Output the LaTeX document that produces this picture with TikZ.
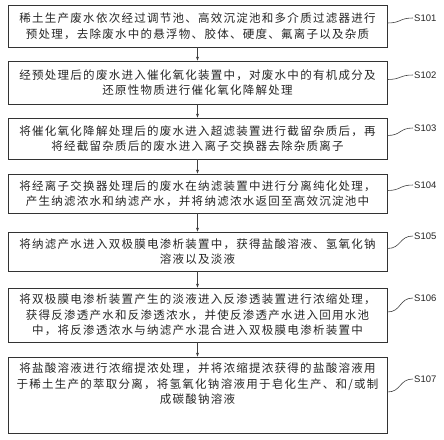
\documentclass[tikz,border=0pt]{standalone}
\usepackage{fontspec}
\usepackage{tikz}
\usetikzlibrary{arrows.meta}
\newfontfamily\cjk{Noto Sans CJK SC}[LetterSpace=11]
\newfontfamily\lblfont{Liberation Sans}
\tikzset{
    stepbox/.style={draw=black!80, line width=0.8pt, minimum width=379, inner sep=0pt},
    steptext/.style={align=center, inner sep=0pt, text=black!85,
        font=\cjk\fontsize{11.5}{15.5}\selectfont},
    steplabel/.style={anchor=west, inner sep=1pt, text=black!85,
        font=\lblfont\fontsize{9.5}{11}\selectfont},
    flow/.style={draw=black!75, line width=0.6pt, -{Stealth[length=4pt,width=3pt]}},
    tie/.style={draw=black!75, line width=0.6pt}
}
\newcommand{\stepnode}[6]{  % 1 name, 2 top, 3 bottom, 4 label, 5 label y, 6 text
        \node[stepbox, steptext, minimum height={#3-#2}] (#1) at (197.5,{(#2+#3)/2}) {#6};
        \node[steplabel] (#1l) at (413,#5) {#4};
        \draw[tie] ([yshift=3pt]#1.east) .. controls +(14,0) and +(-14,0) .. (#1l.west);%wavy tie
}

\begin{document}
\begin{tikzpicture}[x=1pt, y=-1pt]
        \useasboundingbox (0,0) rectangle (444,439);
        \stepnode{b1}{5}{47}{S101}{18}{稀土生产废水依次经过调节池、高效沉淀池和多介质过滤器进行\\预处理，去除废水中的悬浮物、胶体、硬度、氟离子以及杂质}
        \stepnode{b2}{61}{104}{S102}{75}{经预处理后的废水进入催化氧化装置中，对废水中的有机成分及\\还原性物质进行催化氧化降解处理}
        \stepnode{b3}{118}{159}{S103}{128}{将催化氧化降解处理后的废水进入超滤装置进行截留杂质后，再\\将经截留杂质后的废水进入离子交换器去除杂质离子}
        \stepnode{b4}{174}{213}{S104}{185}{将经离子交换器处理后的废水在纳滤装置中进行分离纯化处理，\\产生纳滤浓水和纳滤产水，并将纳滤浓水返回至高效沉淀池中}
        \stepnode{b5}{232}{271}{S105}{236}{将纳滤产水进入双极膜电渗析装置中，获得盐酸溶液、氢氧化钠\\溶液以及淡液}
        \stepnode{b6}{288}{342}{S106}{298}{将双极膜电渗析装置产生的淡液进入反渗透装置进行浓缩处理，\\获得反渗透产水和反渗透浓水，并使反渗透产水进入回用水池\\中，将反渗透浓水与纳滤产水混合进入双极膜电渗析装置中}
        \stepnode{b7}{357}{433}{S107}{379}{}
        \node[steptext] (b7t) at (197.5,384) {将盐酸溶液进行浓缩提浓处理，并将浓缩提浓获得的盐酸溶液用\\于稀土生产的萃取分离，将氢氧化钠溶液用于皂化生产、和/或制\\成碳酸钠溶液};
        \draw[flow] (b1) -- (b2);
        \draw[flow] (b2) -- (b3);
        \draw[flow] (b3) -- (b4);
        \draw[flow] (b4) -- (b5);
        \draw[flow] (b5) -- (b6);
        \draw[flow] (b6) -- (b7);
\end{tikzpicture}
\end{document}
